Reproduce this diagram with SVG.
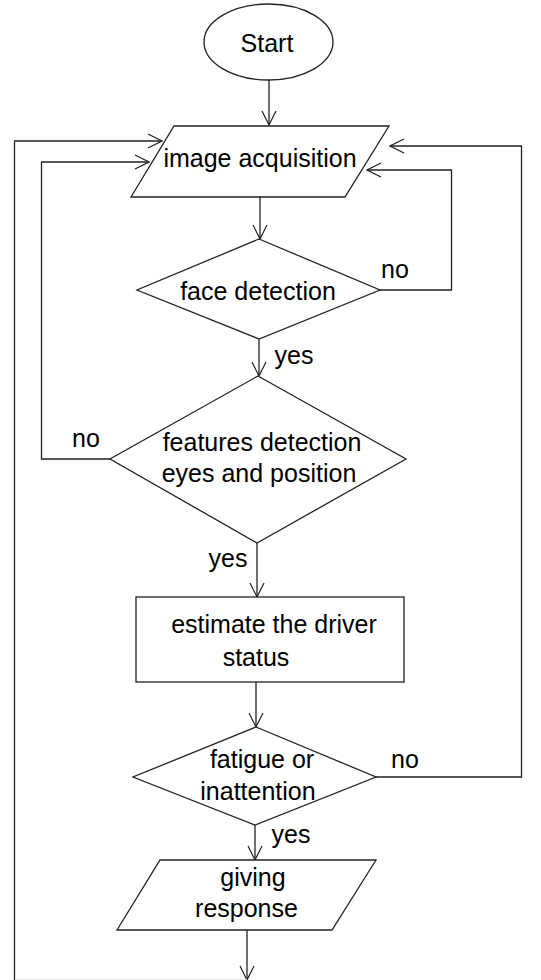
<svg xmlns="http://www.w3.org/2000/svg" width="541" height="980" viewBox="0 0 541 980">
<style>
.shape{fill:#fff;stroke:#222;stroke-width:1.3}
.conn{fill:none;stroke:#222;stroke-width:1.3}
text{font-family:"Liberation Sans",Arial,sans-serif;font-size:25px;fill:#000;text-anchor:middle}
</style>
<defs>
<marker id="arr" viewBox="0 0 16 16" refX="15" refY="8" markerWidth="16" markerHeight="16" markerUnits="userSpaceOnUse" orient="auto">
<path d="M1,1 L15,8 L1,15" fill="none" stroke="#222" stroke-width="1.2"/>
</marker>
</defs>
<rect width="541" height="980" fill="#fff"/>
<g id="connectors">
<line class="conn" x1="269" y1="80" x2="269" y2="125" marker-end="url(#arr)"/>
<line class="conn" x1="260" y1="197" x2="260" y2="239" marker-end="url(#arr)"/>
<line class="conn" x1="259" y1="339" x2="259" y2="376" marker-end="url(#arr)"/>
<line class="conn" x1="257" y1="543" x2="257" y2="597" marker-end="url(#arr)"/>
<line class="conn" x1="256" y1="682" x2="256" y2="727" marker-end="url(#arr)"/>
<line class="conn" x1="255" y1="825" x2="255" y2="860" marker-end="url(#arr)"/>
<line class="conn" x1="247" y1="930" x2="247" y2="980" marker-end="url(#arr)"/>
<polyline class="conn" points="380,290 451.5,290 451.5,170 367,170" marker-end="url(#arr)"/>
<polyline class="conn" points="110,459 41.5,459 41.5,162 149,162" marker-end="url(#arr)"/>
<polyline class="conn" points="376,777 521.5,777 521.5,146 390,146" marker-end="url(#arr)"/>
<polyline class="conn" points="14.5,980 14.5,141 162,141" marker-end="url(#arr)"/>
<line x1="15" y1="979.5" x2="247" y2="979.5" stroke="#e4e4e4" stroke-width="1"/>
</g>
<g id="start">
<ellipse class="shape" cx="268.5" cy="42" rx="64.5" ry="38"/>
<text x="267" y="52">Start</text>
</g>
<g id="image-acquisition">
<polygon class="shape" points="174,126 389,126 345,197 131,197"/>
<text x="260" y="167">image acquisition</text>
</g>
<g id="face-detection">
<polygon class="shape" points="259,239 380,290 259,339 137,290"/>
<text x="258" y="300">face detection</text>
<text x="395" y="278">no</text>
<text x="294" y="364">yes</text>
</g>
<g id="features-detection">
<polygon class="shape" points="258,376 406,459 257,543 110,459"/>
<text x="262" y="451">features detection</text>
<text x="259" y="482">eyes and position</text>
<text x="86" y="447">no</text>
<text x="228" y="567">yes</text>
</g>
<g id="estimate-status">
<rect class="shape" x="136" y="597" width="268" height="85"/>
<text x="274" y="633">estimate the driver</text>
<text x="256" y="666">status</text>
</g>
<g id="fatigue">
<polygon class="shape" points="256,727 376,777 255,825 133,777"/>
<text x="262" y="768">fatigue or</text>
<text x="258" y="800">inattention</text>
<text x="405" y="768">no</text>
<text x="291" y="843">yes</text>
</g>
<g id="giving-response">
<polygon class="shape" points="160,860 376,860 332,930 117,930"/>
<text x="253" y="886">giving</text>
<text x="246.5" y="917">response</text>
</g>
</svg>
